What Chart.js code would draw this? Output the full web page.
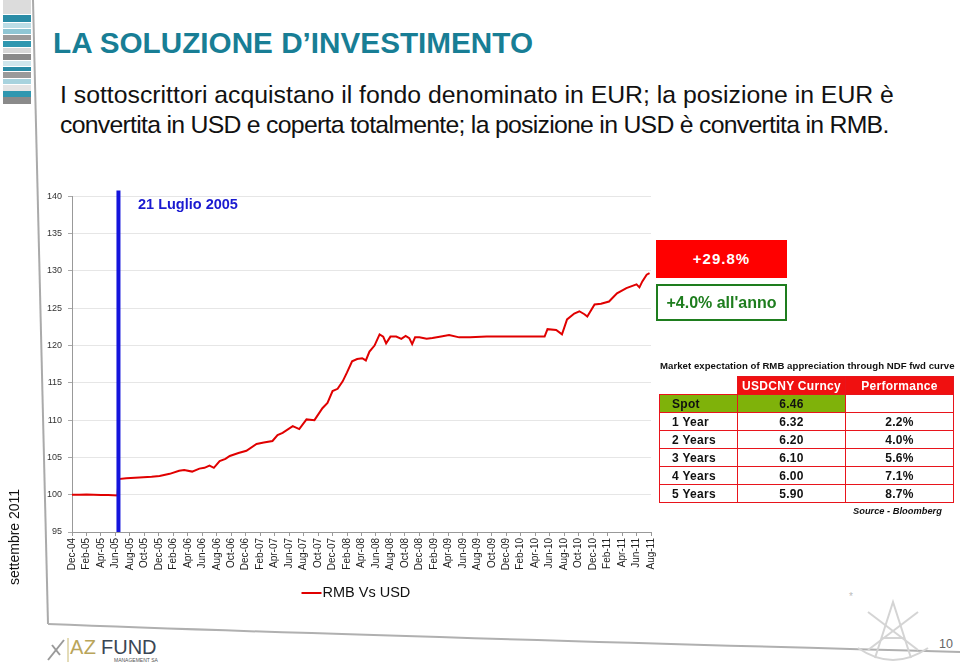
<!DOCTYPE html>
<html>
<head>
<meta charset="utf-8">
<script src="https://cdn.jsdelivr.net/npm/chart.js@4.4.1/dist/chart.umd.min.js"></script>
<style>
  html, body { margin:0; padding:0; background:#fff; }
  body { width:960px; height:668px; position:relative; overflow:hidden; font-family:"Liberation Sans", Arial, sans-serif; }
  .abs { position:absolute; }
  #title { left:53px; top:26px; font-size:29.7px; font-weight:bold; color:#187e95; white-space:nowrap; }
  #sub { left:60px; top:80px; font-size:24.8px; line-height:30px; color:#111; white-space:nowrap; }
  #sub .l2 { letter-spacing:-0.72px; }
  #chartWrap { left:20px; top:185px; width:680px; height:430px; }
  #luglio { left:138px; top:196px; font-size:14.5px; font-weight:bold; color:#1a1ad0; white-space:nowrap; }
  #redBox { left:656px; top:240px; width:131px; height:38px; background:#ff0000; color:#fff; font-weight:bold; font-size:15px; letter-spacing:1px; text-align:center; line-height:38px; }
  #greenBox { left:656px; top:284px; width:127px; height:33px; border:2px solid #1e7d1e; color:#1e7d1e; font-weight:bold; font-size:16px; text-align:center; line-height:33px; white-space:nowrap; }
  #caption { left:660px; top:360px; font-size:9.6px; font-weight:bold; color:#111; letter-spacing:0.05px; white-space:nowrap; }
  table#fwd { position:absolute; left:659px; top:376px; border-collapse:collapse; font-weight:bold; font-size:12px; letter-spacing:0.3px; }
  table#fwd td { height:17px; padding:0; border:1.5px solid #e8141c; color:#111; }
  table#fwd td.c1 { width:65px; padding-left:12px; text-align:left; }
  table#fwd td.c2 { width:107px; text-align:center; }
  table#fwd td.c3 { width:107px; text-align:center; }
  table#fwd tr.hdr td.c2, table#fwd tr.hdr td.c3 { background:#f01010; color:#fff; }
  table#fwd tr.hdr td.c1 { border:none; }
  table#fwd tr.spot td.c1, table#fwd tr.spot td.c2 { background:#7fb20a; }
  #source { left:853px; top:506px; font-size:9.3px; font-weight:bold; font-style:italic; color:#111; white-space:nowrap; }
  #sett { left:-36px; top:529px; width:100px; text-align:center; font-size:14px; color:#111; transform:rotate(-90deg); white-space:nowrap; }
  #pagenum { left:939px; top:637px; font-size:12.5px; color:#666; }
  #azlogo { left:70px; top:636px; white-space:nowrap; }
</style>
</head>
<body>
<svg class="abs" style="left:0;top:0" width="960" height="668">
  <rect x="3" y="0" width="28" height="14" fill="#dcdcdc"/>
  <rect x="3" y="15" width="28" height="7" fill="#2a8ca6"/>
  <rect x="3" y="23" width="28" height="5" fill="#bcdde6"/>
  <rect x="3" y="29" width="28" height="5" fill="#8fc6d4"/>
  <rect x="3" y="35" width="28" height="5" fill="#9a9a9a"/>
  <rect x="3" y="41" width="28" height="6" fill="#2f97b0"/>
  <rect x="3" y="48" width="28" height="5" fill="#d8d8d8"/>
  <rect x="3" y="54" width="28" height="6" fill="#8a8a8a"/>
  <rect x="3" y="61" width="28" height="5" fill="#cfe6ec"/>
  <rect x="3" y="67" width="28" height="4" fill="#2a8ca6"/>
  <rect x="3" y="72" width="28" height="6" fill="#9a9a9a"/>
  <rect x="3" y="79" width="28" height="5" fill="#a8d3de"/>
  <rect x="3" y="85" width="28" height="6" fill="#e4e4e4"/>
  <rect x="3" y="91" width="28" height="6" fill="#2f97b0"/>
  <rect x="3" y="97" width="28" height="7" fill="#8a8a8a"/>
  <line x1="33" y1="0" x2="48" y2="624" stroke="#aaa" stroke-width="2"/>
  <path d="M48 624 Q 300 634 960 652" stroke="#b0b0b0" stroke-width="2" fill="none"/>
  <g stroke="#d4d4d4" fill="none" stroke-width="2">
    <path d="M875 658 L893 602 L911 658"/>
    <line x1="882" y1="638" x2="905" y2="638"/>
    <path d="M858 648 Q 893 672 928 648"/>
    <line x1="868" y1="612" x2="918" y2="650"/>
    <line x1="918" y1="612" x2="868" y2="650"/>
  </g>
  <text x="849" y="600" font-size="10" fill="#bbb">*</text>
  <g stroke="#9a9a9a" stroke-width="2" fill="none">
    <line x1="48" y1="660" x2="64" y2="640"/>
    <line x1="52" y1="645" x2="60" y2="655"/>
  </g>
  <line x1="68" y1="638" x2="68" y2="662" stroke="#c8b870" stroke-width="1"/>
</svg>

<div id="title" class="abs">LA SOLUZIONE D’INVESTIMENTO</div>
<div id="sub" class="abs">I sottoscrittori acquistano il fondo denominato in EUR; la posizione in EUR è<br><span class="l2">convertita in USD e coperta totalmente; la posizione in USD è convertita in RMB.</span></div>

<div id="chartWrap" class="abs"><canvas id="c" width="680" height="430"></canvas></div>
<div id="luglio" class="abs">21 Luglio 2005</div>

<div id="redBox" class="abs">+29.8%</div>
<div id="greenBox" class="abs">+4.0% all'anno</div>

<div id="caption" class="abs">Market expectation of RMB appreciation through NDF fwd curve</div>
<table id="fwd"></table>
<div id="source" class="abs">Source - Bloomberg</div>

<div id="sett" class="abs">settembre 2011</div>
<div id="azlogo" class="abs"><span style="font-size:20px;color:#b9a55a;letter-spacing:0.5px">AZ</span> <span style="font-size:20px;color:#3a4654">FUND</span><div style="font-size:5px;color:#555;margin-left:44px;margin-top:-2px">MANAGEMENT SA</div></div>
<div id="pagenum" class="abs">10</div>

<script>
// ---- data (months since Dec-04, index value RMB vs USD) ----
const monthOffset = [0, 1, 2, 3, 4, 5, 6.3, 6.42, 7.5, 9.3, 11, 12.1, 13.5, 14.8, 15.5, 16.6, 17.6, 18.3, 19, 19.6,
  20.4, 21.2, 21.8, 23, 24.1, 25.5, 26.5, 27.7, 28.4, 29.1, 30.5, 31.4, 32.4, 33.5, 34.6, 35.3, 36, 36.7, 37.4, 38,
  38.7, 39.4, 40.1, 40.6, 41.1, 41.8, 42.5, 43, 43.4, 44, 44.8, 45.5, 46.1, 46.6, 47, 47.4, 48, 49, 49.8, 51,
  52.1, 53.5, 55, 57.3, 59, 61.4, 63.2, 65.3, 65.7, 66.9, 67.7, 68.4, 69.4, 70.1, 70.8, 71.2, 72.2, 73.1, 74.2, 75.3,
  76.6, 78, 78.4, 78.8, 79.4, 79.8];
const rmbIndex = [100, 100, 100.02, 99.98, 99.95, 99.95, 99.9, 102.1, 102.2, 102.3, 102.4, 102.5, 102.8, 103.2, 103.3, 103.1, 103.5, 103.6, 103.9, 103.6,
  104.5, 104.8, 105.2, 105.6, 105.9, 106.8, 107.0, 107.2, 108.0, 108.3, 109.2, 108.8, 110.1, 110.0, 111.6, 112.3, 113.9, 114.2, 115.2, 116.4,
  117.9, 118.2, 118.3, 118.0, 119.2, 120.0, 121.5, 121.2, 120.3, 121.2, 121.2, 120.9, 121.3, 121.0, 120.2, 121.1, 121.1, 120.9, 121.0, 121.2,
  121.4, 121.1, 121.1, 121.2, 121.2, 121.2, 121.2, 121.2, 122.2, 122.1, 121.5, 123.5, 124.3, 124.6, 124.2, 123.9, 125.5, 125.6, 125.9, 127.0,
  127.7, 128.2, 127.8, 128.6, 129.5, 129.7];
const pegBreakMonth = 6.42;          // 21 Luglio 2005
const pegLineRange = [95, 140.8];
const xTickLabels = ['Dec-04','Feb-05','Apr-05','Jun-05','Aug-05','Oct-05','Dec-05','Feb-06','Apr-06','Jun-06','Aug-06','Oct-06',
  'Dec-06','Feb-07','Apr-07','Jun-07','Aug-07','Oct-07','Dec-07','Feb-08','Apr-08','Jun-08','Aug-08','Oct-08','Dec-08','Feb-09',
  'Apr-09','Jun-09','Aug-09','Oct-09','Dec-09','Feb-10','Apr-10','Jun-10','Aug-10','Oct-10','Dec-10','Feb-11','Apr-11','Jun-11','Aug-11'];
const yTicks = [95, 100, 105, 110, 115, 120, 125, 130, 135, 140];
const seriesName = 'RMB Vs USD';

const tableHeader = ['', 'USDCNY Curncy', 'Performance'];
const tableTenors = ['Spot', '1 Year', '2 Years', '3 Years', '4 Years', '5 Years'];
const tableRates = ['6.46', '6.32', '6.20', '6.10', '6.00', '5.90'];
const tablePerf = ['', '2.2%', '4.0%', '5.6%', '7.1%', '8.7%'];

// ---- table ----
const tbl = document.getElementById('fwd');
let html = '<tr class="hdr"><td class="c1">' + tableHeader[0] + '</td><td class="c2">' + tableHeader[1] + '</td><td class="c3">' + tableHeader[2] + '</td></tr>';
tableTenors.forEach((t, i) => {
  html += '<tr' + (i === 0 ? ' class="spot"' : '') + '><td class="c1">' + t + '</td><td class="c2">' + tableRates[i] + '</td><td class="c3">' + tablePerf[i] + '</td></tr>';
});
tbl.innerHTML = html;

// ---- chart ----
const legendPlugin = {
  id: 'customLegend',
  afterDraw(chart) {
    const ctx = chart.ctx, a = chart.chartArea;
    const cx = (a.left + a.right) / 2;
    const y = a.bottom + 61;
    ctx.save();
    ctx.strokeStyle = '#e00000'; ctx.lineWidth = 2;
    ctx.beginPath(); ctx.moveTo(cx - 60, y); ctx.lineTo(cx - 40, y); ctx.stroke();
    ctx.fillStyle = '#111'; ctx.font = '14.5px "Liberation Sans", Arial, sans-serif';
    ctx.textBaseline = 'middle'; ctx.textAlign = 'left';
    ctx.fillText(seriesName, cx - 39, y);
    ctx.restore();
  }
};

new Chart(document.getElementById('c'), {
  type: 'line',
  data: {
    datasets: [
      {
        label: seriesName,
        data: monthOffset.map((m, i) => ({ x: m, y: rmbIndex[i] })),
        borderColor: '#e00000', borderWidth: 2, pointRadius: 0, tension: 0, order: 2
      },
      {
        label: '21 Luglio 2005',
        data: pegLineRange.map(v => ({ x: pegBreakMonth, y: v })),
        borderColor: '#1414dc', borderWidth: 4, pointRadius: 0, clip: false, order: 1
      }
    ]
  },
  options: {
    responsive: false, animation: false,
    layout: { padding: { left: 12, right: 49, top: 10, bottom: 33 } },
    plugins: { legend: { display: false }, tooltip: { enabled: false } },
    scales: {
      x: {
        type: 'linear', min: 0, max: 80,
        afterBuildTicks(scale) { scale.ticks = xTickLabels.map((l, i) => ({ value: i * 2 })); },
        afterFit(scale) { scale.height = 50; },
        ticks: {
          autoSkip: false, minRotation: 90, maxRotation: 90, padding: 2,
          color: '#222', font: { size: 10, family: '"Liberation Sans", Arial, sans-serif' },
          callback: (v) => xTickLabels[Math.round(v / 2)]
        },
        grid: { drawOnChartArea: false, drawTicks: true, tickLength: 4, color: '#999' },
        border: { color: '#999', width: 1 }
      },
      y: {
        min: 95, max: 140,
        afterBuildTicks(scale) { scale.ticks = yTicks.map(v => ({ value: v })); },
        afterFit(scale) { scale.width = 40; },
        ticks: { padding: 6, color: '#333', font: { size: 9, family: '"Liberation Sans", Arial, sans-serif' } },
        grid: { color: '#e6e6e6', tickLength: 4, tickColor: '#aaa' },
        border: { color: '#999', width: 1 }
      }
    }
  },
  plugins: [legendPlugin]
});
</script>
</body>
</html>
